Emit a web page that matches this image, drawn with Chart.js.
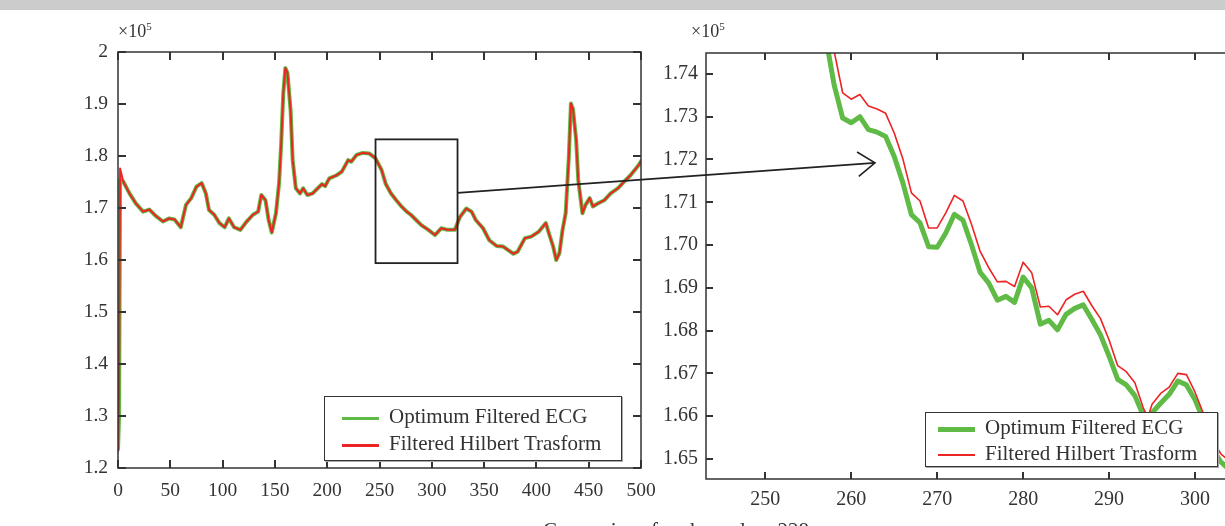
<!DOCTYPE html>
<html>
<head>
<meta charset="utf-8">
<script src="https://cdn.jsdelivr.net/npm/chart.js@4"></script>
<style>
  body { margin: 0; width: 1225px; height: 526px; overflow: hidden; background: #fff; position: relative;
         font-family: "Liberation Serif", "DejaVu Serif", serif; color: #333; }
  #topbar { position: absolute; left: 0; top: 0; width: 1225px; height: 10px; background: #cccccc; }
  canvas { position: absolute; top: 0; }
  #overview { left: 0; }
  #detail { left: 640px; }
  #arrow { left: 0; pointer-events: none; }
  .exp { position: absolute; top: 20px; font-size: 18px; }
  .exp sup { font-size: 11px; }
  .legend { position: absolute; background: #fff; border: 1.5px solid #333; box-shadow: 1px 1px 0 #aaa;
            font-size: 21px; box-sizing: border-box; }
  .legend .row { height: 27px; line-height: 27px; white-space: nowrap; }
  .legend .sw { display: inline-block; vertical-align: middle; width: 37px; margin-right: 10px; }
  #legendLeft { left: 324px; top: 396px; width: 298px; height: 65px; padding: 6px 0 0 17px; }
  #legendRight { left: 925px; top: 412px; width: 293px; height: 55px; padding: 1px 0 0 12px; }
  #legendRight .row { height: 26px; line-height: 26px; }
  #caption { position: absolute; top: 518px; left: 543px; font-size: 21px; white-space: nowrap; }
</style>
</head>
<body>
<div id="topbar"></div>
<canvas id="overview" width="680" height="526"></canvas>
<canvas id="detail" width="640" height="526"></canvas>
<canvas id="arrow" width="1225" height="526"></canvas>

<div class="exp" style="left:118px">&times;10<sup>5</sup></div>
<div class="exp" style="left:691px">&times;10<sup>5</sup></div>

<div class="legend" id="legendLeft">
  <div class="row"><span class="sw" style="height:3px;background:#5fba46"></span>Optimum Filtered ECG</div>
  <div class="row"><span class="sw" style="height:3px;background:#ec2424"></span>Filtered Hilbert Trasform</div>
</div>
<div class="legend" id="legendRight">
  <div class="row"><span class="sw" style="height:5px;background:#5fba46"></span>Optimum Filtered ECG</div>
  <div class="row"><span class="sw" style="height:2px;background:#ec2424"></span>Filtered Hilbert Trasform</div>
</div>

<div id="caption">Comparison for channel no 228</div>

<script>
// whole record, values in units of 10^5
var overviewX = [0, 1, 2, 5, 11, 17, 24, 30, 36, 43,
  49, 54, 60, 65, 70, 75, 80, 84, 87, 92,
  97, 102, 106, 111, 117, 123, 129, 134, 137, 141,
  144, 147, 151, 154, 156, 158, 160, 162, 165, 167,
  170, 174, 177, 181, 186, 191, 195, 198, 202, 209,
  214, 220, 223, 228, 234, 240, 246, 252, 256, 261,
  266, 271, 276, 280, 285, 290, 296, 303, 309, 315,
  322, 327, 333, 338, 342, 349, 355, 362, 368, 373,
  378, 382, 389, 395, 402, 409, 412, 416, 419, 422,
  425, 428, 431, 433, 435, 438, 440, 444, 447, 451,
  454, 459, 465, 471, 478, 484, 490, 498, 500];

var overviewEcg = [1.236, 1.300, 1.754, 1.751, 1.728, 1.709, 1.693, 1.697, 1.685, 1.674,
  1.680, 1.678, 1.663, 1.706, 1.719, 1.741, 1.748, 1.728, 1.696, 1.687,
  1.671, 1.663, 1.680, 1.663, 1.658, 1.674, 1.687, 1.693, 1.725, 1.715,
  1.677, 1.653, 1.690, 1.748, 1.824, 1.920, 1.969, 1.960, 1.888, 1.792,
  1.738, 1.728, 1.738, 1.725, 1.728, 1.738, 1.746, 1.742, 1.757, 1.763,
  1.770, 1.792, 1.789, 1.802, 1.806, 1.805, 1.796, 1.773, 1.746, 1.728,
  1.715, 1.703, 1.693, 1.687, 1.677, 1.667, 1.659, 1.648, 1.661, 1.658,
  1.658, 1.683, 1.699, 1.693, 1.677, 1.661, 1.638, 1.627, 1.626, 1.619,
  1.612, 1.616, 1.642, 1.645, 1.654, 1.671, 1.651, 1.626, 1.600, 1.613,
  1.658, 1.690, 1.799, 1.901, 1.890, 1.831, 1.754, 1.690, 1.706, 1.719,
  1.703, 1.709, 1.715, 1.728, 1.738, 1.751, 1.763, 1.783, 1.790];

var overviewHilbert = [1.232, 1.340, 1.776, 1.751, 1.728, 1.709, 1.693, 1.697, 1.685, 1.674,
  1.680, 1.678, 1.663, 1.706, 1.719, 1.741, 1.748, 1.728, 1.696, 1.687,
  1.671, 1.663, 1.680, 1.663, 1.658, 1.674, 1.687, 1.693, 1.725, 1.715,
  1.677, 1.653, 1.690, 1.748, 1.824, 1.920, 1.969, 1.960, 1.888, 1.792,
  1.738, 1.728, 1.738, 1.725, 1.728, 1.738, 1.746, 1.742, 1.757, 1.763,
  1.770, 1.792, 1.789, 1.802, 1.806, 1.805, 1.796, 1.773, 1.746, 1.728,
  1.715, 1.703, 1.693, 1.687, 1.677, 1.667, 1.659, 1.648, 1.661, 1.658,
  1.658, 1.683, 1.699, 1.693, 1.677, 1.661, 1.638, 1.627, 1.626, 1.619,
  1.612, 1.616, 1.642, 1.645, 1.654, 1.671, 1.651, 1.626, 1.600, 1.613,
  1.658, 1.690, 1.799, 1.901, 1.890, 1.831, 1.754, 1.690, 1.706, 1.719,
  1.703, 1.709, 1.715, 1.728, 1.738, 1.751, 1.763, 1.783, 1.790];

// samples 257..305 shown enlarged
var detailX = [257, 258, 259, 260, 261, 262, 263, 264, 265, 266,
  267, 268, 269, 270, 271, 272, 273, 274, 275, 276,
  277, 278, 279, 280, 281, 282, 283, 284, 285, 286,
  287, 288, 289, 290, 291, 292, 293, 294, 294.5, 295,
  296, 297, 298, 299, 300, 301, 302, 303, 304, 305];

var detailEcg = [1.7490, 1.7375, 1.7297, 1.7286, 1.7300, 1.7270, 1.7264, 1.7254, 1.7207, 1.7146,
  1.7071, 1.7052, 1.6996, 1.6995, 1.7028, 1.7072, 1.7058, 1.7000, 1.6936, 1.6911,
  1.6871, 1.6880, 1.6866, 1.6925, 1.6900, 1.6815, 1.6824, 1.6802, 1.6838, 1.6852,
  1.6860, 1.6826, 1.6790, 1.6740, 1.6686, 1.6673, 1.6648, 1.6600, 1.6582, 1.6608,
  1.6630, 1.6651, 1.6682, 1.6673, 1.6638, 1.6590, 1.6525, 1.6493, 1.6475, 1.6460];

var detailHilbert = [1.7520, 1.7454, 1.7356, 1.7341, 1.7352, 1.7325, 1.7318, 1.7308, 1.7262, 1.7202,
  1.7122, 1.7103, 1.7040, 1.7040, 1.7075, 1.7116, 1.7103, 1.7048, 1.6985, 1.6947,
  1.6914, 1.6915, 1.6903, 1.6960, 1.6935, 1.6855, 1.6857, 1.6837, 1.6872, 1.6885,
  1.6892, 1.6858, 1.6828, 1.6778, 1.6718, 1.6704, 1.6678, 1.6618, 1.6597, 1.6628,
  1.6653, 1.6668, 1.6700, 1.6697, 1.6656, 1.6605, 1.6545, 1.6512, 1.6495, 1.6480];

var overviewXTicks = [0, 50, 100, 150, 200, 250, 300, 350, 400, 450, 500];
var overviewYTicks = [1.2, 1.3, 1.4, 1.5, 1.6, 1.7, 1.8, 1.9, 2];
var detailXTicks = [250, 260, 270, 280, 290, 300];
var detailYTicks = [1.65, 1.66, 1.67, 1.68, 1.69, 1.70, 1.71, 1.72, 1.73, 1.74];

// region of the record that the right panel enlarges
var zoomWindow = { x0: 246.2, x1: 324.6, y0: 1.594, y1: 1.832 };

var GREEN = '#5fba46';
var RED = '#ec2424';
var INK = '#333';

function points(xs, ys) {
  return xs.map(function (x, i) { return { x: x, y: ys[i] }; });
}

// frame plus inward tick marks on all four sides (matlab look)
var innerTicks = {
  id: 'innerTicks',
  afterDatasetsDraw: function (chart, args, opts) {
    var ctx = chart.ctx, a = chart.chartArea, x = chart.scales.x, y = chart.scales.y;
    var len = opts.len || 8;
    ctx.save();
    ctx.strokeStyle = INK;
    ctx.lineWidth = 1.5;
    ctx.strokeRect(a.left, a.top, a.right - a.left, a.bottom - a.top);
    ctx.lineWidth = 2;
    ctx.beginPath();
    x.ticks.forEach(function (t) {
      var px = Math.round(x.getPixelForValue(t.value));
      ctx.moveTo(px, a.bottom); ctx.lineTo(px, a.bottom - len);
      ctx.moveTo(px, a.top); ctx.lineTo(px, a.top + len);
    });
    y.ticks.forEach(function (t) {
      var py = Math.round(y.getPixelForValue(t.value));
      ctx.moveTo(a.left, py); ctx.lineTo(a.left + len, py);
      ctx.moveTo(a.right, py); ctx.lineTo(a.right - len, py);
    });
    ctx.stroke();
    ctx.restore();
  }
};

// rectangle marking the enlarged window
var zoomRect = {
  id: 'zoomRect',
  afterDatasetsDraw: function (chart, args, opts) {
    if (!opts.window) return;
    var ctx = chart.ctx, x = chart.scales.x, y = chart.scales.y, w = opts.window;
    var l = x.getPixelForValue(w.x0), r = x.getPixelForValue(w.x1);
    var t = y.getPixelForValue(w.y1), b = y.getPixelForValue(w.y0);
    ctx.save();
    ctx.strokeStyle = '#222';
    ctx.lineWidth = 1.8;
    ctx.strokeRect(l, t, r - l, b - t);
    ctx.restore();
  }
};

function makeChart(id, cfg) {
  return new Chart(document.getElementById(id), {
    type: 'line',
    data: {
      datasets: [
        { label: 'Optimum Filtered ECG', data: points(cfg.x, cfg.ecg), borderColor: GREEN,
          borderWidth: cfg.greenWidth, order: 2 },
        { label: 'Filtered Hilbert Trasform', data: points(cfg.x, cfg.hilbert), borderColor: RED,
          borderWidth: cfg.redWidth, order: 1 }
      ]
    },
    options: {
      responsive: false,
      animation: false,
      events: [],
      layout: { padding: cfg.padding },
      elements: { point: { radius: 0 }, line: { tension: 0, borderJoinStyle: 'round', borderCapStyle: 'round' } },
      plugins: {
        legend: { display: false },
        tooltip: { enabled: false },
        innerTicks: { len: cfg.tickLen },
        zoomRect: { window: cfg.window }
      },
      scales: {
        x: {
          type: 'linear', min: cfg.xMin, max: cfg.xMax,
          grid: { display: false }, border: { display: false },
          afterBuildTicks: function (s) { s.ticks = cfg.xTicks.map(function (v) { return { value: v }; }); },
          afterFit: function (s) { s.height = cfg.xHeight; },
          ticks: { color: INK, padding: cfg.xPad, maxRotation: 0, autoSkip: false,
                   font: { family: 'Liberation Serif', size: cfg.fontSize },
                   callback: function (v) { return String(v); } }
        },
        y: {
          min: cfg.yMin, max: cfg.yMax,
          grid: { display: false }, border: { display: false },
          afterBuildTicks: function (s) { s.ticks = cfg.yTicks.map(function (v) { return { value: v }; }); },
          afterFit: function (s) { s.width = cfg.yWidth; },
          ticks: { color: INK, padding: cfg.yPad, autoSkip: false,
                   font: { family: 'Liberation Serif', size: cfg.fontSize },
                   callback: cfg.yFormat }
        }
      }
    },
    plugins: [innerTicks, zoomRect]
  });
}

var overviewChart = makeChart('overview', {
  x: overviewX, ecg: overviewEcg, hilbert: overviewHilbert,
  greenWidth: 4, redWidth: 2,
  xMin: 0, xMax: 500, yMin: 1.2, yMax: 2,
  xTicks: overviewXTicks, yTicks: overviewYTicks,
  padding: { top: 52, right: 39, bottom: 0, left: 0 },
  xHeight: 58, yWidth: 118, xPad: 3, yPad: 2, tickLen: 8, fontSize: 19.5,
  yFormat: function (v) { return v === 2 ? '2' : v.toFixed(1); },
  window: zoomWindow
});

var detailChart = makeChart('detail', {
  x: detailX, ecg: detailEcg, hilbert: detailHilbert,
  greenWidth: 5, redWidth: 1.6,
  xMin: 243.1, xMax: 305, yMin: 1.6453, yMax: 1.7449,
  xTicks: detailXTicks, yTicks: detailYTicks,
  padding: { top: 53, right: 42, bottom: 0, left: 0 },
  xHeight: 47, yWidth: 66, xPad: 1, yPad: 0, tickLen: 7, fontSize: 20,
  yFormat: function (v) { return v.toFixed(2); },
  window: null
});

// arrow from the marked window to the enlarged panel
(function drawArrow() {
  var ctx = document.getElementById('arrow').getContext('2d');
  var ox = overviewChart.scales.x, oy = overviewChart.scales.y;
  var dx = detailChart.scales.x, dy = detailChart.scales.y;
  var x0 = ox.getPixelForValue(zoomWindow.x1), y0 = oy.getPixelForValue(1.729);
  var x1 = 640 + dx.getPixelForValue(262.76), y1 = dy.getPixelForValue(1.7192);
  var ang = Math.atan2(y1 - y0, x1 - x0), head = 21, spread = 0.62;
  ctx.strokeStyle = '#222';
  ctx.lineWidth = 1.6;
  ctx.beginPath();
  ctx.moveTo(x0, y0); ctx.lineTo(x1, y1);
  ctx.moveTo(x1 - head * Math.cos(ang - spread), y1 - head * Math.sin(ang - spread));
  ctx.lineTo(x1, y1);
  ctx.lineTo(x1 - head * Math.cos(ang + spread), y1 - head * Math.sin(ang + spread));
  ctx.stroke();
})();
</script>
</body>
</html>
